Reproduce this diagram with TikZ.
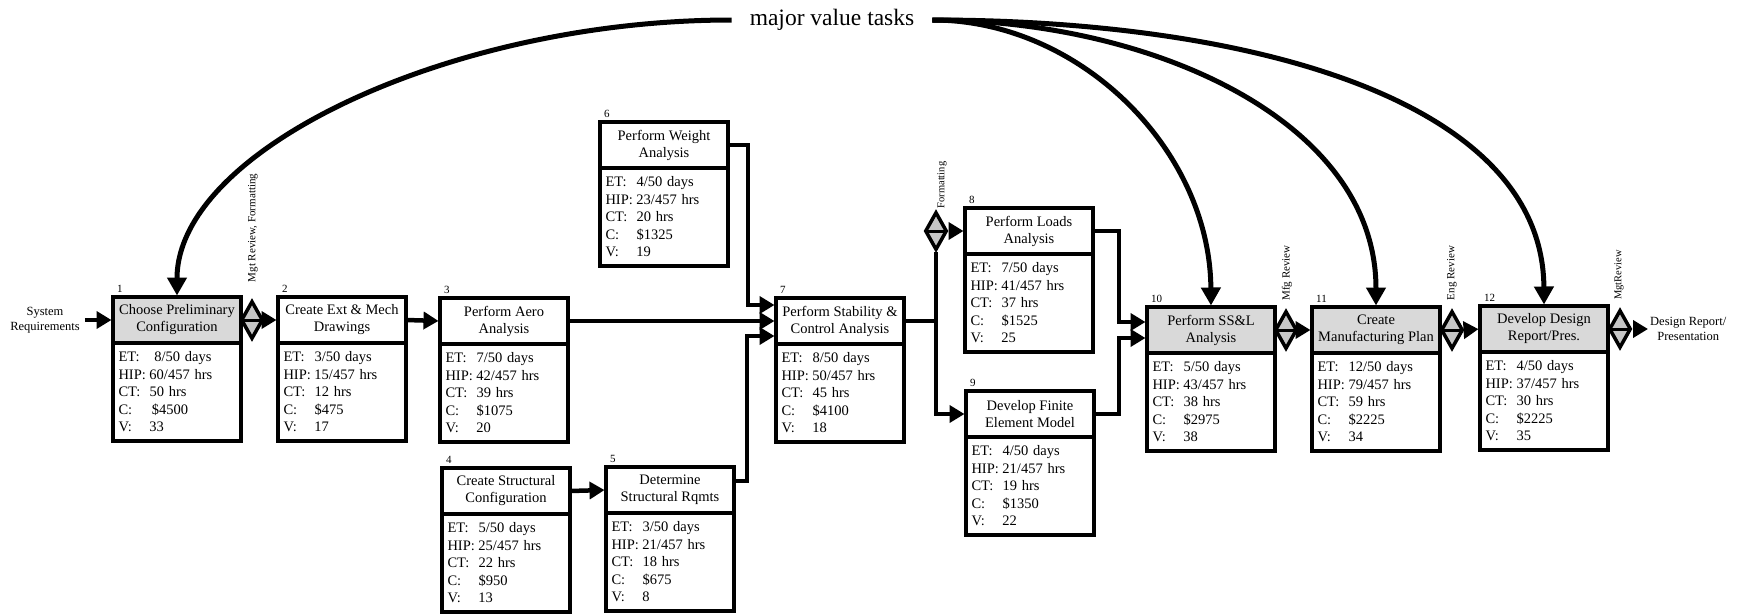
\documentclass[tikz,border=0pt]{standalone}
\usepackage{fontspec}
\setmainfont{Liberation Serif}
\usetikzlibrary{arrows.meta,shapes.geometric}
\newcommand{\dline}[2]{\makebox[31pt][l]{#1}#2}
\newcommand{\tbox}[6]{%
  \node[ttl,#6,anchor=north west] (t#1) at #2 {#4};
  \node[dat,anchor=north] (b#1) at (t#1.south) {#5};
  \node[num,anchor=south west] (n#1) at ([xshift=3pt,yshift=3pt]t#1.north west) {#1};
}
\newcommand{\tdata}[5]{\dline{ET:}{#1}\\\dline{HIP:}{#2}\\\dline{CT:}{#3}\\\dline{C:}{#4}\\\dline{V:}{#5}}
\tikzset{
  ttl/.style={draw, line width=4.5pt, outer sep=0pt, fill=white, minimum width=128pt, minimum height=46pt,
    inner xsep=1pt, inner ysep=2pt, align=center, font=\fontsize{14.5}{17}\selectfont},
  hot/.style={fill=gray!30},
  dat/.style={draw, line width=4.5pt, outer sep=0pt, text width=117pt, inner xsep=5.5pt, minimum height=98pt,
    align=left, font=\fontsize{14.5}{17.5}\selectfont},
  num/.style={font=\fontsize{11}{11}\selectfont, inner sep=1pt},
  conn/.style={line width=4.5pt},
  arr/.style={conn, -{Triangle[length=15pt,width=17pt]}, shorten >=1.5pt},
  curve/.style={line width=5pt, -{Triangle[length=18pt,width=19pt]}, shorten >=1.5pt},
  gate/.style={diamond, draw, line width=3.5pt, fill=gray!45, minimum width=22pt, minimum height=38pt,
    inner sep=0pt, path picture={\draw[line width=3pt] (path picture bounding box.west) -- (path picture bounding box.east);}},
  side/.style={font=\fontsize{12.5}{14.5}\selectfont, align=center, inner sep=0pt},
  vlab/.style={font=\fontsize{11}{11}\selectfont, rotate=90, inner sep=0pt},
}
\begin{document}
\begin{tikzpicture}[x=1pt,y=-1pt]
\useasboundingbox (0,0) rectangle (1741,616);

% boxes
\tbox{1}{(113,297)}{1}{Choose Preliminary\\Configuration}{\tdata{\,\,8/50 days}{60/457 hrs}{50 hrs}{\,\$4500}{33}}{hot}
\tbox{2}{(278,297)}{2}{Create Ext \& Mech\\Drawings}{\tdata{3/50 days}{15/457 hrs}{12 hrs}{\$475}{17}}{}
\tbox{3}{(440,298)}{3}{Perform Aero\\Analysis}{\tdata{7/50 days}{42/457 hrs}{39 hrs}{\$1075}{20}}{}
\tbox{4}{(442,468)}{4}{Create Structural\\Configuration}{\tdata{5/50 days}{25/457 hrs}{22 hrs}{\$950}{13}}{}
\tbox{5}{(606,467)}{5}{Determine\\Structural Rqmts}{\tdata{3/50 days}{21/457 hrs}{18 hrs}{\$675}{8}}{}
\tbox{6}{(600,122)}{6}{Perform Weight\\Analysis}{\tdata{4/50 days}{23/457 hrs}{20 hrs}{\$1325}{19}}{}
\tbox{7}{(776,298)}{7}{Perform Stability \&\\Control Analysis}{\tdata{8/50 days}{50/457 hrs}{45 hrs}{\$4100}{18}}{}
\tbox{8}{(965,208)}{8}{Perform Loads\\Analysis}{\tdata{7/50 days}{41/457 hrs}{37 hrs}{\$1525}{25}}{}
\tbox{9}{(966,391)}{9}{Develop Finite\\Element Model}{\tdata{4/50 days}{21/457 hrs}{19 hrs}{\$1350}{22}}{}
\tbox{10}{(1147,307)}{10}{Perform SS\&L\\Analysis}{\tdata{5/50 days}{43/457 hrs}{38 hrs}{\$2975}{38}}{hot}
\tbox{11}{(1312,307)}{11}{Create\\Manufacturing Plan}{\tdata{12/50 days}{79/457 hrs}{59 hrs}{\$2225}{34}}{hot}
\tbox{12}{(1480,306)}{12}{Develop Design\\Report/Pres.}{\tdata{4/50 days}{37/457 hrs}{30 hrs}{\$2225}{35}}{hot}

% gates
\node[gate] (d1) at (252,320) {};
\node[gate] (d8) at (936,231) {};
\node[gate] (d10) at (1286,330) {};
\node[gate] (d11) at (1452,330) {};
\node[gate] (d12) at (1620,329) {};

% side labels
\node[side] (sr) at (45,320) {System\\Requirements};
\node[side,anchor=west] (dr) at (1650,329) {Design Report/\\Presentation};
\node[vlab] (l1) at (253,228) {Mgt Review, Formatting};
\node[vlab,font=\fontsize{10.5}{10.5}\selectfont] (l8) at (942,185) {Formatting};
\node[vlab] (l10) at (1287,273) {Mfg Review};
\node[vlab] (l11) at (1452,273) {Eng Review};
\node[vlab,font=\fontsize{10.5}{10.5}\selectfont] (l12) at (1619,275) {MgtReview};
\node[font=\fontsize{23.5}{24}\selectfont, inner xsep=18pt, inner ysep=0pt] (mvt) at (832,20) {major value tasks};

% connectors
\draw[arr] (sr.east) ++(5,0) -- (t1.west);
\draw[arr] (d1.east) -- (t2.west);
\draw[arr] (t2.east) -- (t3.west);
\draw[arr] (t3.east) -- (t7.west);
\draw[arr] (t4.east) -- (t5.west);
\draw[arr] (t6.east) -- ++(20,0) |- ([yshift=16pt]t7.west);
\draw[arr] ([yshift=9pt]t5.east) -- ++(13,0) |- ([yshift=-15pt]t7.west);
\coordinate (j7) at (936,321);
\draw[conn] (t7.east) -- (j7);
\draw[conn] (j7) -- (d8.south);
\draw[arr] (j7) |- (t9.west);
\draw[arr] (d8.east) -- (t8.west);
\draw[arr] (t8.east) -- ++(26,0) |- ([yshift=8pt]t10.west);
\draw[arr] (t9.east) -- ++(25,0) |- ([yshift=-8pt]t10.west);
\draw[arr] (d10.east) -- (t11.west);
\draw[arr] (d11.east) -- (t12.west);
\draw[arr,shorten >=2pt] (d12.east) -- (dr.west);

% value curves
\draw[curve] (mvt.west) .. controls (450,20) and (177,150) .. (t1.north);
\draw[curve] (mvt.east) .. controls (1080,20) and (1210,150) .. (t10.north);
\draw[curve] (mvt.east) .. controls (1150,20) and (1376,120) .. (t11.north);
\draw[curve] (mvt.east) .. controls (1250,20) and (1543,100) .. (t12.north);
\end{tikzpicture}
\end{document}
